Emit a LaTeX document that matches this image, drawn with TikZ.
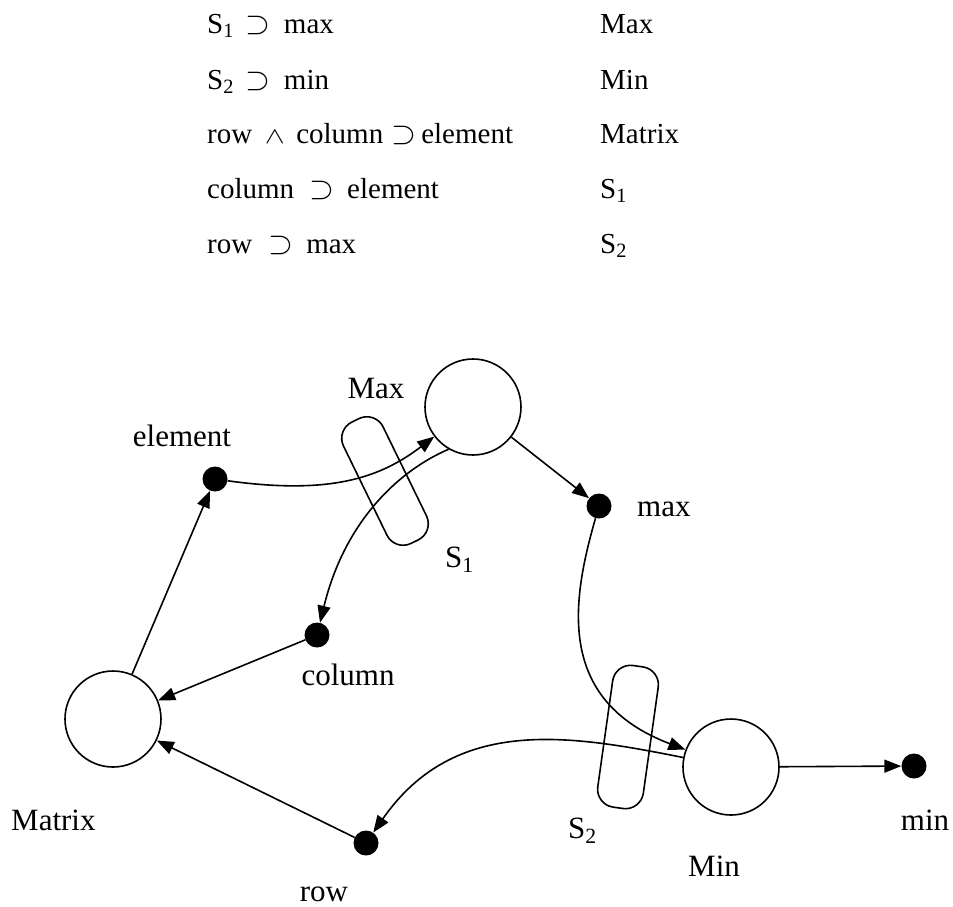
\documentclass[tikz,border=0pt]{standalone}
\usepackage{fontspec}
\setmainfont{Liberation Serif}
\usetikzlibrary{arrows.meta}
\newcommand\SupS{\makebox[22pt]{\fontsize{10}{12}\selectfont\scalebox{3.2}{$\supset$}}}
\newcommand\AndS{\makebox[17pt]{\fontsize{10}{12}\selectfont\scalebox{3.0}[2.3]{$\wedge$}}}
\tikzset{
  tbl/.style={anchor=base west, inner sep=0pt, font=\fontsize{29}{34}\selectfont},
  lbl/.style={inner sep=0pt, font=\fontsize{31}{36}\selectfont},
  bigc/.style={circle, draw, line width=1.6pt, minimum size=96pt, inner sep=0pt},
  dotn/.style={circle, fill, minimum size=25pt, inner sep=0pt},
  band/.style={rectangle, draw, line width=1.6pt, rounded corners=18pt, inner sep=0pt},
  arr/.style={line width=1.6pt, -{Triangle[length=17pt,width=13pt]}}
}
\begin{document}
\begin{tikzpicture}[x=1pt,y=-1pt]
\useasboundingbox (0,0) rectangle (953,906);
% table
\node[tbl] (t1l) at (207,33) {S\textsubscript{1}\hspace{13pt}\SupS\hspace{15pt}max};
\node[tbl] (t2l) at (207,89) {S\textsubscript{2}\hspace{13pt}\SupS\hspace{15pt}min};
\node[tbl] (t3l) at (207,143) {row\hspace{14pt}\AndS\hspace{13pt}column\hspace{10pt}\SupS\hspace{6pt}element};
\node[tbl] (t4l) at (207,198) {column\hspace{17pt}\SupS\hspace{14pt}element};
\node[tbl] (t5l) at (207,253) {row\hspace{18pt}\SupS\hspace{14pt}max};
\node[tbl] (t1r) at (600,33) {Max};
\node[tbl] (t2r) at (600,89) {Min};
\node[tbl] (t3r) at (600,143) {Matrix};
\node[tbl] (t4r) at (600,198) {S\textsubscript{1}};
\node[tbl] (t5r) at (600,253) {S\textsubscript{2}};
% bands
\node[band, minimum width=44pt, minimum height=135pt, rotate=26] (s1) at (385,481) {};
\node[band, minimum width=46pt, minimum height=143pt, rotate=-8] (s2) at (628,737) {};
% circles
\node[bigc] (Max) at (473,407) {};
\node[bigc] (Mat) at (113,719) {};
\node[bigc] (Min) at (731,767) {};
% dots
\node[dotn] (el) at (215,479) {};
\node[dotn] (mxd) at (599,506) {};
\node[dotn] (col) at (317,635) {};
\node[dotn] (rowd) at (366,843) {};
\node[dotn] (mind) at (914,766) {};
% labels
\node[lbl, anchor=base] (lMax) at (376,398) {Max};
\node[lbl, anchor=base] (lel) at (182,446) {element};
\node[lbl, anchor=base west] (lmx) at (637,516) {max};
\node[lbl, anchor=base west] (ls1) at (445,567) {S\textsubscript{1}};
\node[lbl, anchor=base] (lcol) at (348,685) {column};
\node[lbl, anchor=base west] (lmat) at (11,830) {Matrix};
\node[lbl, anchor=base] (lrow) at (324,901) {row};
\node[lbl, anchor=base west] (ls2) at (568,838) {S\textsubscript{2}};
\node[lbl, anchor=base west] (lmin) at (688,876) {Min};
\node[lbl, anchor=base] (lmind) at (925,830) {min};
% connectors
\draw[arr] (Mat) -- (el);
\draw[arr] (el) .. controls (330,495) and (380,478) .. (Max);
\draw[arr] (Max.240) .. controls (400,470) and (345,520) .. (col);
\draw[arr] (Max) -- (mxd);
\draw[arr] (col) -- (Mat);
\draw[arr] (rowd) -- (Mat);
\draw[arr] (mxd) .. controls (572,600) and (555,700) .. (Min);
\draw[arr] (Min) .. controls (570,735) and (455,715) .. (rowd);
\draw[arr] (Min) -- (mind);
\end{tikzpicture}
\end{document}
